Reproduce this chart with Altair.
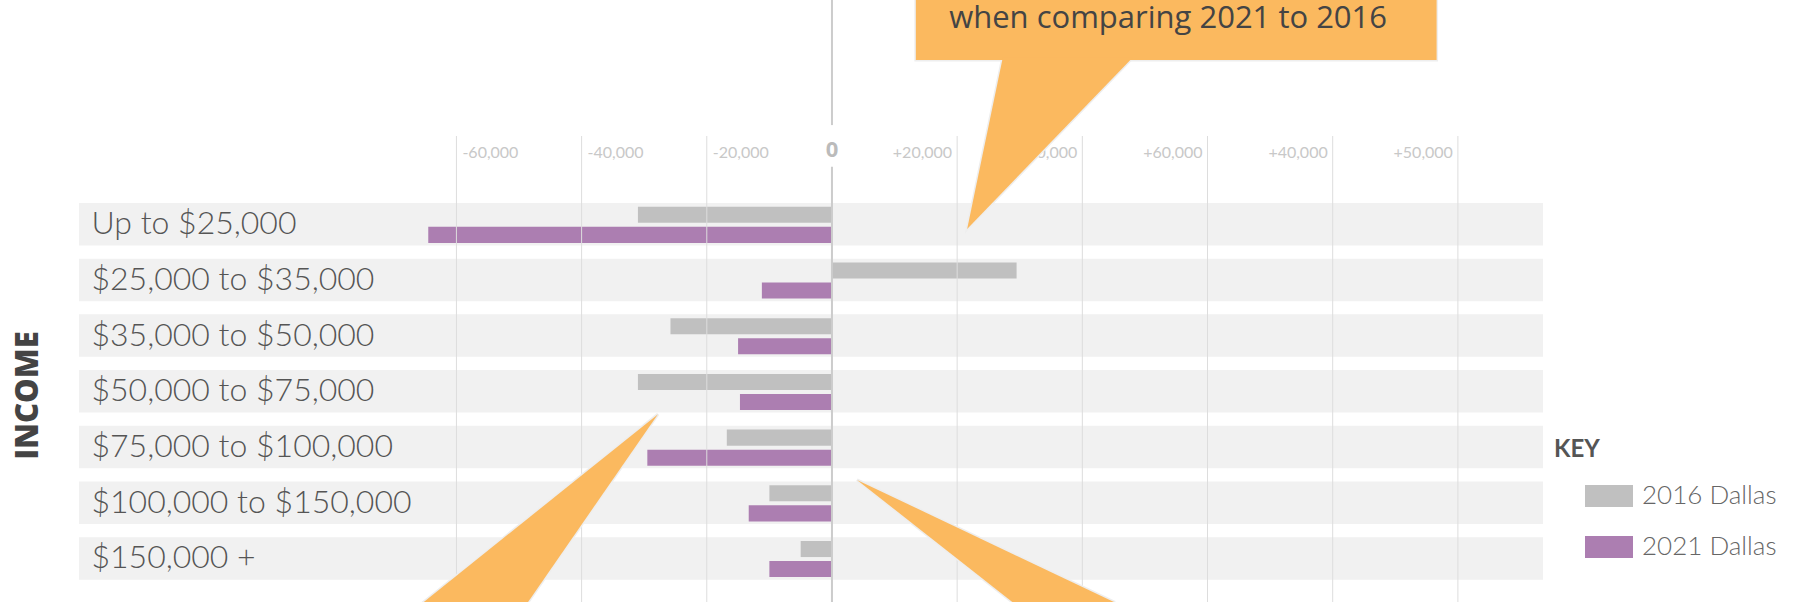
import altair as alt
import pandas as pd

# ---- data -------------------------------------------------------------
rows = [
    "Up to $25,000",
    "$25,000 to $35,000",
    "$35,000 to $50,000",
    "$50,000 to $75,000",
    "$75,000 to $100,000",
    "$100,000 to $150,000",
    "$150,000 +",
]
series = ["2016 Dallas", "2021 Dallas"]
change_2016 = [-31000, 29500, -25800, -31000, -16800, -10000, -5000]
change_2021 = [-64500, -11200, -15000, -14700, -29500, -13300, -10000]

tick_values = [-60000, -40000, -20000, 0, 20000, 40000, 60000, 80000, 100000]
tick_labels = ["-60,000", "-40,000", "-20,000", "0", "+20,000",
               "+40,000", "+60,000", "+40,000", "+50,000"]

# Callout shapes: x in value units, y in row units (0 = centre of the first row).
# Each shape is given by two horizontal edges (y, left x, right x).
callout_shape = ["box", "box", "tail_top", "tail_top",
                 "tail_left", "tail_left", "tail_right", "tail_right"]
callout_y = [-4.6, -2.95, -3.0, 0.085, 3.41, 6.79, 4.59, 6.79]
callout_x0 = [13400, 13400, 27300, 21600, -27800, -65300, 4000, 28900]
callout_x1 = [96600, 96600, 48100, 21600, -27800, -48600, 4000, 45200]

callout_text = ["when comparing 2021 to 2016"]
callout_text_x = [53700]
callout_text_y = [-3.53]

# zero line, broken around its "0" label (row units)
zero_from = [-4.2, -1.03]
zero_to = [-1.78, 6.79]

# ---- layout ------------------------------------------------------------
W, H = 1464, 466
X_DOMAIN = [-120300, 113600]
ROW_UNITS = [-1.584, 6.782]

GREY = "#c0c0c0"
PURPLE = "#ac7eb1"
ORANGE = "#fbb95f"

xs = alt.Scale(domain=X_DOMAIN, nice=False)
row_scale = alt.Scale(domain=rows, paddingInner=0.237, paddingOuter=0.8016, align=0.75)
us = alt.Scale(domain=ROW_UNITS, nice=False, zero=False, reverse=True)

bars_df = pd.DataFrame({
    "row": rows * 2,
    "series": [series[0]] * len(rows) + [series[1]] * len(rows),
    "change": change_2016 + change_2021,
})
band_df = pd.DataFrame({"row": rows})
ticks_df = pd.DataFrame({"value": tick_values, "label": tick_labels})
callout_df = pd.DataFrame({"shape": callout_shape, "u": callout_y,
                           "x0": callout_x0, "x1": callout_x1})
text_df = pd.DataFrame({"text": callout_text, "x": callout_text_x, "u": callout_text_y})
zero_df = pd.DataFrame({"value": [0] * len(zero_from), "u0": zero_from, "u1": zero_to})

y_axis = alt.Axis(
    title="INCOME", titleFont="Open Sans", titleFontSize=31, titleFontWeight=800,
    titleColor="#444444", titleAngle=270, titleX=-51, titleY=259,
    titleAlign="center", titleBaseline="middle",
    labelAlign="left", labelBaseline="middle", labelPadding=-12,
    labelFont="Lato", labelFontWeight=300, labelFontSize=32, labelColor="#555555",
    labelLimit=0, ticks=False, tickSize=0, domain=False, grid=False, zindex=1,
)

bands = alt.Chart(band_df).mark_rect(color="#f1f1f1").encode(
    y=alt.Y("row:N", scale=row_scale, axis=y_axis),
    x=alt.value(0),
    x2=alt.value(W),
)

bar_layer = alt.Chart(bars_df).mark_bar().encode(
    x=alt.X("change:Q", scale=xs, axis=None),
    x2=alt.datum(0),
    y=alt.Y("row:N", scale=row_scale, axis=y_axis),
    yOffset=alt.YOffset("series:N", scale=alt.Scale(domain=series, paddingInner=0.2,
                                                    paddingOuter=0.16, align=0.6)),
    color=alt.Color(
        "series:N",
        scale=alt.Scale(domain=series, range=[GREY, PURPLE]),
        legend=alt.Legend(
            title="KEY", orient="none", legendX=1475, legendY=302, direction="vertical",
            padding=0, titleFont="Lato", titleFontSize=24, titleFontWeight=700,
            titleColor="#555555", titlePadding=10,
            labelFont="Lato", labelFontWeight=300, labelFontSize=26, labelColor="#666666",
            labelOffset=9, symbolType="M-1,-0.458H1V0.458H-1Z", symbolSize=2304,
            symbolStrokeWidth=0, symbolOpacity=1, symbolOffset=31, rowPadding=14,
        ),
    ),
)

base = alt.layer(bands, bar_layer)

grid = alt.Chart(ticks_df).transform_filter("datum.value != 0").mark_rule(
    color="#dddddd", strokeWidth=1
).encode(x=alt.X("value:Q", scale=xs, axis=None))

zero_rule = alt.Chart(zero_df).mark_rule(color="#cccccc", strokeWidth=2).encode(
    x=alt.X("value:Q", scale=xs, axis=None),
    y=alt.Y("u0:Q", scale=us, axis=None),
    y2="u1:Q",
)

tick_style = dict(font="Lato", fontSize=16, color="#c8c8c8", baseline="middle")
ticks_neg = alt.Chart(ticks_df).transform_filter("datum.value < 0").mark_text(
    align="left", dx=6, **tick_style
).encode(x=alt.X("value:Q", scale=xs, axis=None), y=alt.value(17), text="label:N")
ticks_pos = alt.Chart(ticks_df).transform_filter("datum.value > 0").mark_text(
    align="right", dx=-5, **tick_style
).encode(x=alt.X("value:Q", scale=xs, axis=None), y=alt.value(17), text="label:N")
tick_zero = alt.Chart(ticks_df).transform_filter("datum.value == 0").mark_text(
    align="center", baseline="middle", font="Open Sans", fontSize=22, fontWeight="bold",
    color="#bbbbbb"
).encode(x=alt.X("value:Q", scale=xs, axis=None), y=alt.value(14), text="label:N")

callout_enc = dict(
    y=alt.Y("u:Q", scale=us, axis=None),
    x=alt.X("x0:Q", scale=xs, axis=None),
    x2="x1:Q",
    detail="shape:N",
)
callout_edge = alt.Chart(callout_df).mark_area(
    orient="horizontal", color=ORANGE, stroke="#eeeeee", strokeWidth=3
).encode(**callout_enc)
callout_fill = alt.Chart(callout_df).mark_area(
    orient="horizontal", color=ORANGE, strokeWidth=0
).encode(**callout_enc)
callout_label = alt.Chart(text_df).mark_text(
    font="Open Sans", fontSize=31, color="#444444", align="center", baseline="alphabetic"
).encode(
    x=alt.X("x:Q", scale=xs, axis=None),
    y=alt.Y("u:Q", scale=us, axis=None),
    text="text:N",
)

chart = alt.layer(
    base, grid, zero_rule, ticks_neg, ticks_pos, tick_zero,
    callout_edge, callout_fill, callout_label,
).resolve_scale(y="independent").properties(
    width=W,
    height=H,
    autosize=alt.AutoSizeParams(type="none"),
    padding={"left": 79, "top": 136, "right": 252, "bottom": 0},
    background="white",
).configure_view(stroke=None)

chart.save("out.html", embed_options={"renderer": "svg", "actions": False})
